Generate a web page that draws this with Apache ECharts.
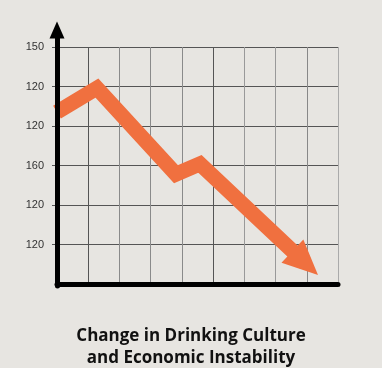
<!DOCTYPE html>
<html>
<head>
<meta charset="utf-8">
<script src="https://cdn.jsdelivr.net/npm/echarts@6/dist/echarts.min.js"></script>
<style>
html,body{margin:0;padding:0;background:#e7e5e1;}
#c{width:382px;height:368px;}
</style>
</head>
<body>
<div id="c"></div>
<script>
// y tick labels, bottom (value 0) to top (value 6)
const yTickLabels = ['', '120', '120', '160', '120', '120', '150'];
const yTickValues = [1, 2, 3, 4, 5, 6];
// trend path (x position on 0..9 scale, value on 0..6 scale)
const trendX = [0, 1.28, 3.81, 4.58, 7.95];
const trendY = [4.35, 4.96, 2.78, 3.04, 0.53];
const titleLines = ['Change in Drinking Culture', 'and Economic Instability'];

const orange = '#f0703f';
const data = trendX.map((x, i) => {
  if (i === trendX.length - 1) {
    return { value: [x, trendY[i]], symbol: 'triangle', symbolSize: [32, 35], symbolRotate: -133, itemStyle: { color: orange } };
  }
  return { value: [x, trendY[i]], symbol: 'none' };
});

const chart = echarts.init(document.getElementById('c'), null, { renderer: 'canvas' });
chart.setOption({
  backgroundColor: '#e7e5e1',
  animation: false,
  title: {
    text: titleLines.join('\n'),
    left: 'center',
    top: 320,
    textStyle: { fontFamily: 'Open Sans', fontWeight: 'bold', fontSize: 17, lineHeight: 22, color: '#111' }
  },
  grid: [
    { left: 57, right: 44, top: 47, bottom: 84 },
    { left: 57, right: 44, top: 30, bottom: 82 }
  ],
  xAxis: [
    {
      type: 'value', gridIndex: 0, min: 0, max: 9, interval: 1,
      axisLine: { show: true, onZero: false, lineStyle: { color: '#000', width: 5 } },
      axisTick: { show: false },
      axisLabel: { show: false },
      splitLine: { show: true, lineStyle: { width: 1, color: ['#555', '#555', '#8a8a8a', '#8a8a8a', '#8a8a8a', '#555', '#999', '#999', '#888', '#aaa'] } }
    },
    { type: 'value', gridIndex: 1, min: 0, max: 9, show: false }
  ],
  yAxis: [
    {
      type: 'value', gridIndex: 0, min: 0, max: 6, interval: 1,
      axisLine: { show: false },
      axisTick: { show: true, length: 5, customValues: yTickValues, lineStyle: { color: '#555', width: 1 } },
      axisLabel: {
        margin: 13, color: '#333', fontSize: 11, fontFamily: 'Liberation Sans',
        customValues: yTickValues,
        formatter: v => yTickLabels[Math.round(v)] || ''
      },
      splitLine: { show: true, lineStyle: { width: 1, color: ['#555', '#555', '#555', '#555', '#555', '#555', '#a0a0a0'] } }
    },
    {
      type: 'value', gridIndex: 1, min: 0, max: 6, z: 5,
      axisLine: { show: true, onZero: false, symbol: ['none', 'triangle'], symbolSize: [15, 17], lineStyle: { color: '#000', width: 5 } },
      axisTick: { show: false }, axisLabel: { show: false }, splitLine: { show: false }
    }
  ],
  series: [
    {
      type: 'line', xAxisIndex: 0, yAxisIndex: 0,
      data: data,
      showSymbol: true,
      lineStyle: { color: orange, width: 15, join: 'miter', cap: 'butt' },
      itemStyle: { color: orange },
      silent: true,
      z: 3
    }
  ]
});
</script>
</body>
</html>
